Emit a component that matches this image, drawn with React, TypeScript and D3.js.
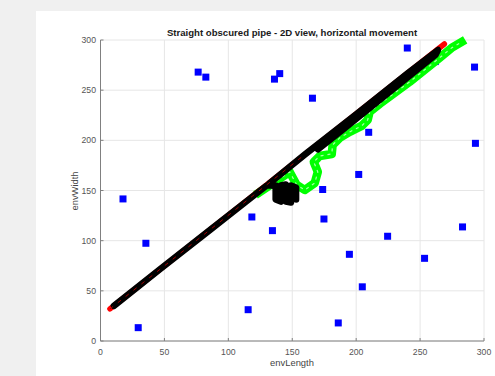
import React, { useEffect, useRef } from 'react';
import * as d3 from 'd3';

// obstacles (blue squares)
const obstacleX = [240, 292.6, 76.4, 82.4, 140.2, 136.1, 165.8, 209.8, 202, 173.8, 174.8, 134.5, 224.6, 194.7, 253.5, 283.2, 204.8, 186, 293.3, 17.6, 35.5, 29.5, 118.4, 115.5, 261.9];
const obstacleY = [292, 273, 268, 263, 266.5, 261, 242, 208, 166, 151, 121.6, 110, 104.4, 86.4, 82.4, 113.7, 54, 18, 197, 141.6, 97.4, 13.3, 123.6, 31.2, 278.5];

// reference pipe axis (red)
const pipeX = [7.4, 85.5, 160, 269];
const pipeY = [32, 110.7, 186, 296];

// estimated path (black)
const estX = [10.5, 46, 86, 117, 130, 137, 137, 141, 141, 145, 145, 149, 149, 153, 153, 146, 138, 134, 132, 160, 200, 240, 264, 262, 222, 190, 170];
const estY = [35, 71, 111, 142, 155, 155, 141, 139, 155, 156, 139, 138, 155, 153, 141, 148, 151, 157, 157, 186, 226, 266.5, 290, 285, 244, 211, 191];

// measured path (green)
const measX = [124, 138.7, 148, 153.5, 159.8, 167.6, 170, 166.8, 171.5, 180.9, 181.6, 187.1, 194.9, 204.3, 209, 210.5, 218.4, 230.1, 241.8, 253.5, 265.2, 274.6, 282.4];
const measY = [148, 160.5, 168.5, 155.5, 150.5, 157.5, 168.5, 178.5, 184.4, 186.4, 195.4, 202.4, 208.4, 214.4, 220.3, 228.3, 236.3, 247.3, 258.2, 270.2, 282.2, 292.1, 298];

const ticks = [0, 50, 100, 150, 200, 250, 300];

const W = 495;
const H = 376;

export default () => {
  const svgRef = useRef<SVGSVGElement>(null);

  useEffect(() => {
    if (!svgRef.current) {
      return;
    }
    const svg = d3.select(svgRef.current);
    svg.selectAll('*').remove();

    const x = d3.scaleLinear().domain([0, 300]).range([100.5, 484]);
    const y = d3.scaleLinear().domain([0, 300]).range([341, 40]);

    // figure background
    svg.append('rect').attr('width', W).attr('height', H).attr('fill', '#f0f0f0');
    svg.append('rect').attr('x', 36).attr('y', 11).attr('width', W - 36).attr('height', H - 11).attr('fill', '#fff');

    // grid
    const grid = svg.append('g').attr('stroke', '#e6e6e6').attr('stroke-width', 1);
    ticks.forEach((t) => {
      grid.append('line').attr('x1', x(t)).attr('x2', x(t)).attr('y1', y(0)).attr('y2', y(300));
      grid.append('line').attr('x1', x(0)).attr('x2', x(300)).attr('y1', y(t)).attr('y2', y(t));
    });

    const plot = svg.append('g');
    const line = d3.line<[number, number]>().x((d) => x(d[0])).y((d) => y(d[1]));

    // obstacles
    plot.selectAll('rect.obs')
      .data(obstacleX.map((v, i) => [v, obstacleY[i]]))
      .enter()
      .append('rect')
      .attr('x', (d) => x(d[0]) - 3.5)
      .attr('y', (d) => y(d[1]) - 3.5)
      .attr('width', 7)
      .attr('height', 7)
      .attr('fill', '#0000ff');

    // measured (green)
    const meas = measX.map((v, i) => [v, measY[i]] as [number, number]);
    plot.append('path')
      .attr('d', line(meas))
      .attr('fill', 'none')
      .attr('stroke', '#00ff00')
      .attr('stroke-width', 8.5)
      .attr('stroke-linejoin', 'round')
      .attr('stroke-linecap', 'square');
    plot.append('path')
      .attr('d', line(meas))
      .attr('fill', 'none')
      .attr('stroke', '#a8ffa8')
      .attr('stroke-width', 1.2)
      .attr('stroke-dasharray', '3 4');

    // pipe (red) under estimate
    const pipe = pipeX.map((v, i) => [v, pipeY[i]] as [number, number]);
    plot.append('path')
      .attr('d', line(pipe))
      .attr('fill', 'none')
      .attr('stroke', '#ff0000')
      .attr('stroke-width', 5.5)
      .attr('stroke-linecap', 'round');

    // estimate (black)
    const est = estX.map((v, i) => [v, estY[i]] as [number, number]);
    plot.append('path')
      .attr('d', line(est))
      .attr('fill', 'none')
      .attr('stroke', '#000')
      .attr('stroke-width', 6.5)
      .attr('stroke-linejoin', 'round')
      .attr('stroke-linecap', 'round');

    // thin red core visible through the black markers
    plot.append('path')
      .attr('d', line(pipe.slice(0, 3)))
      .attr('fill', 'none')
      .attr('stroke', '#a00000')
      .attr('stroke-width', 1)
      .attr('stroke-dasharray', '4 6');

    // axes (left & bottom, ticks inward)
    const axisColor = '#808080';
    svg.append('line').attr('x1', x(0)).attr('x2', x(0)).attr('y1', y(0)).attr('y2', y(300)).attr('stroke', axisColor);
    svg.append('line').attr('x1', x(0)).attr('x2', x(300)).attr('y1', y(0)).attr('y2', y(0)).attr('stroke', axisColor);

    const font = 'Liberation Sans, Arial, Helvetica, sans-serif';
    ticks.forEach((t) => {
      svg.append('line').attr('x1', x(0)).attr('x2', x(0) + 3).attr('y1', y(t)).attr('y2', y(t)).attr('stroke', axisColor);
      svg.append('line').attr('x1', x(t)).attr('x2', x(t)).attr('y1', y(0)).attr('y2', y(0) - 3).attr('stroke', axisColor);
      svg.append('text')
        .attr('x', x(0) - 4.5)
        .attr('y', y(t) + 3)
        .attr('text-anchor', 'end')
        .attr('font-family', font)
        .attr('font-size', 8.7)
        .attr('fill', '#555')
        .text(String(t));
      svg.append('text')
        .attr('x', x(t))
        .attr('y', y(0) + 14)
        .attr('text-anchor', 'middle')
        .attr('font-family', font)
        .attr('font-size', 8.7)
        .attr('fill', '#555')
        .text(String(t));
    });

    svg.append('text')
      .attr('x', 292)
      .attr('y', 36)
      .attr('text-anchor', 'middle')
      .attr('font-family', font)
      .attr('font-size', 9.6)
      .attr('font-weight', 'bold')
      .attr('fill', '#1a1a1a')
      .text('Straight obscured pipe - 2D view, horizontal movement');

    svg.append('text')
      .attr('x', 292)
      .attr('y', 366)
      .attr('text-anchor', 'middle')
      .attr('font-family', font)
      .attr('font-size', 9.4)
      .attr('fill', '#444')
      .text('envLength');

    svg.append('text')
      .attr('transform', 'translate(78,191) rotate(-90)')
      .attr('text-anchor', 'middle')
      .attr('font-family', font)
      .attr('font-size', 9.4)
      .attr('fill', '#444')
      .text('envWidth');
  }, []);

  return (
    <svg
      ref={svgRef}
      width={W}
      height={H}
      style={{ position: 'fixed', left: 0, top: 0, display: 'block' }}
    />
  );
};
